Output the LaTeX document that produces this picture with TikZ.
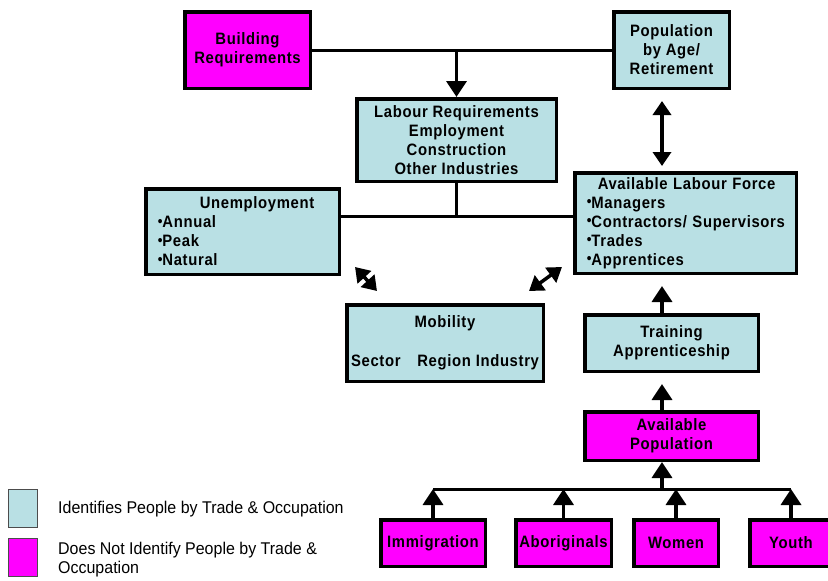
\documentclass[tikz,border=0pt]{standalone}
\usepackage{fontspec}
\setmainfont{Liberation Sans}
\newfontfamily\boxfont[LetterSpace=4,FakeStretch=0.9]{Liberation Sans}
\newfontfamily\legfont[FakeStretch=0.94]{Liberation Sans}
\usepackage{tikz}
\usetikzlibrary{arrows.meta}

\definecolor{tradeblue}{RGB}{185,224,228}
\definecolor{pinkbox}{RGB}{255,0,255}
\newcommand\bul{\raisebox{0.1em}{\scalebox{0.9}{\textbullet}}}

\begin{document}
\begin{tikzpicture}[x=1pt,y=-1pt]
        \tikzset{trade/.style = {shape=rectangle,draw,line width=3.5pt,fill=tradeblue,align=center,inner sep=0pt,
                 font=\boxfont\bfseries\fontsize{16.5}{19}\selectfont}}
        \tikzset{notrade/.style = {trade,fill=pinkbox}}
        \tikzset{dims/.style 2 args = {minimum width=#1,minimum height=#2}}
        \tikzset{edge/.style = {-{Triangle[length=16pt,width=20pt]},line width=3.5pt}}
        \tikzset{biedge/.style = {{Triangle[length=14pt,width=18pt]}-{Triangle[length=14pt,width=18pt]},line width=3.5pt}}
        \tikzset{link/.style = {line width=3pt}}
        \tikzset{legbox/.style = {shape=rectangle,draw=black!70,line width=1pt,minimum width=29pt,minimum height=38pt}}
        \tikzset{legtext/.style = {anchor=west,inner sep=0pt,align=left,font=\legfont\fontsize{17}{19}\selectfont}}

        \useasboundingbox (0,0) rectangle (828,581);
        \clip (0,0) rectangle (828,581);

        % vertices
        \node[notrade,dims={125.5}{76.5}] (build) at (247.5,50) {Building\\Requirements};
        \node[trade,dims={115.5}{76.5}] (popn) at (671.5,50) {Population\\by Age/\\Retirement};
        \node[trade,dims={199.5}{82.5}] (labour) at (456.5,140) {Labour Requirements\\Employment\\Construction\\Other Industries};
        \node[trade,dims={193.5}{85.5},align=left,inner xsep=12pt,text width=169.5pt] (unemp) at (242.5,231.5)
            {\hspace*{42pt}Unemployment\\\bul Annual\\\bul Peak\\\bul Natural};
        \node[trade,dims={221.5}{100.5},align=left,inner xsep=12pt,text width=197.5pt] (alf) at (685.5,223)
            {\hspace*{11pt}Available Labour Force\\\bul Managers\\\bul Contractors/ Supervisors\\\bul Trades\\\bul Apprentices};
        \node[trade,dims={196.5}{76.5}] (mob) at (445,343) {Mobility\\[20pt]Sector\hspace{12pt} Region Industry};
        \node[trade,dims={173.5}{56.5}] (train) at (671.5,343) {Training\\Apprenticeship};
        \node[notrade,dims={173.5}{48.5}] (avpop) at (671.5,436) {Available\\Population};

        \foreach \name/\x/\w/\txt in {immi/433/104.5/Immigration,abor/563.5/95.5/Aboriginals,
                                      women/676/84.5/Women,youth/791/82.5/Youth}
            \node[notrade,dims={\w}{46.5}] (\name) at (\x,543) {\txt};

        % legend
        \node[legbox,fill=tradeblue] (legA) at (23,508.5) {};
        \node[legbox,fill=pinkbox] (legB) at (23,557.5) {};
        \node[legtext] (legAt) at (58,509) {Identifies People by Trade \& Occupation};
        \node[legtext] (legBt) at (58,559.5) {Does Not Identify People by Trade \&\\Occupation};

        % junctions
        \coordinate (axis) at (662,0);
        \coordinate (junc) at (456.5,216);
        \coordinate (bus) at (662,489);

        %edges
        \draw[link] (build) -- (popn);
        \draw[edge] (build -| labour) -- (labour.north);
        \draw[link] (labour.south) -- (junc);
        \draw[link] (unemp.east |- junc) -- (alf.west |- junc);
        \draw[biedge,shorten <=11pt,shorten >=5pt] (popn.south -| axis) -- (alf.north -| axis);
        \draw[edge,shorten >=11pt] (train.north -| axis) -- (alf.south -| axis);
        \draw[edge,shorten >=11pt] (avpop.north -| axis) -- (train.south -| axis);
        \draw[biedge] ([shift={(14,-9)}]unemp.south east) -- ([shift={(32,-12)}]mob.north west);
        \draw[biedge] ([shift={(-16,-12)}]mob.north east) -- ([shift={(-11,-8)}]alf.south west);
        \draw[edge] (bus) -- (avpop.south -| bus);
        \draw[link] (immi |- bus) -- (youth |- bus);
        \foreach \name in {immi,abor,women,youth}
            \draw[edge] (\name.north) -- (\name |- bus);

\end{tikzpicture}
\end{document}
